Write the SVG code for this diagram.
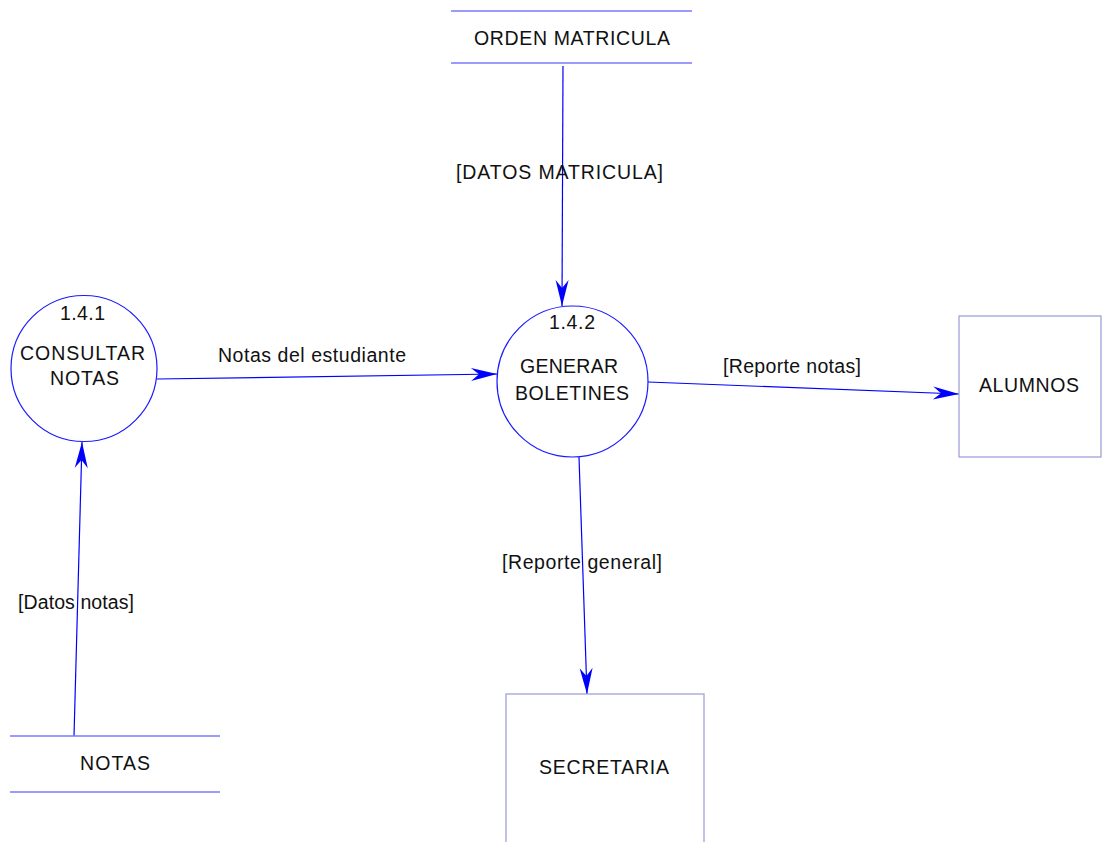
<svg xmlns="http://www.w3.org/2000/svg" width="1104" height="842" viewBox="0 0 1104 842">
  <defs>
    <marker id="arrow" markerUnits="userSpaceOnUse" markerWidth="30" markerHeight="16" viewBox="-28 -8 30 16" refX="0" refY="0" orient="auto">
      <path d="M0,0 L-26,-6.5 L-18,0 L-26,6.5 Z" fill="#0000ff"/>
    </marker>
    <style>
      text { font-family: "Liberation Sans", Arial, sans-serif; font-size: 19.5px; fill: #111; }
      .proc { fill: #fff; stroke: #1a1aff; stroke-width: 1.2; }
      .store { stroke: #7878ff; stroke-width: 1.5; fill: none; }
      .ext { fill: #fff; stroke: #9a9ad8; stroke-width: 1.2; }
      .flow { stroke: #0000ff; stroke-width: 1.2; fill: none; marker-end: url(#arrow); }
    </style>
  </defs>
  <rect width="1104" height="842" fill="#fff"/>

  <!-- data flows -->
  <g id="connectors">
    <line class="flow" x1="563" y1="66" x2="562" y2="306"/>
    <line class="flow" x1="74" y1="736" x2="82" y2="442"/>
    <line class="flow" x1="157" y1="379" x2="497" y2="374"/>
    <line class="flow" x1="648" y1="382" x2="959" y2="394"/>
    <line class="flow" x1="579" y1="457" x2="587" y2="694"/>
    <text x="456" y="179" textLength="207" lengthAdjust="spacing">[DATOS MATRICULA]</text>
    <text x="218" y="362" textLength="188" lengthAdjust="spacing">Notas del estudiante</text>
    <text x="723" y="373" textLength="138" lengthAdjust="spacing">[Reporte notas]</text>
    <text x="502" y="569" textLength="160" lengthAdjust="spacing">[Reporte general]</text>
    <text x="18" y="609" textLength="116" lengthAdjust="spacing">[Datos notas]</text>
  </g>

  <!-- data store: ORDEN MATRICULA -->
  <g id="store-orden">
    <line class="store" x1="451" y1="11" x2="692" y2="11"/>
    <line class="store" x1="451" y1="63" x2="692" y2="63"/>
    <text x="474" y="45" textLength="196" lengthAdjust="spacing">ORDEN MATRICULA</text>
  </g>

  <!-- data store: NOTAS -->
  <g id="store-notas">
    <line class="store" x1="10" y1="736" x2="220" y2="736"/>
    <line class="store" x1="10" y1="792" x2="220" y2="792"/>
    <text x="80" y="770" textLength="70" lengthAdjust="spacing">NOTAS</text>
  </g>

  <!-- process 1.4.1 -->
  <g id="proc-141">
    <circle class="proc" cx="84" cy="368.5" r="73"/>
    <text x="60" y="320" textLength="45" lengthAdjust="spacing">1.4.1</text>
    <text x="20" y="360" textLength="125" lengthAdjust="spacing">CONSULTAR</text>
    <text x="50" y="385" textLength="69" lengthAdjust="spacing">NOTAS</text>
  </g>

  <!-- process 1.4.2 -->
  <g id="proc-142">
    <circle class="proc" cx="572.5" cy="381.5" r="75.5"/>
    <text x="549" y="329" textLength="46" lengthAdjust="spacing">1.4.2</text>
    <text x="520" y="373" textLength="98" lengthAdjust="spacing">GENERAR</text>
    <text x="515" y="400" textLength="114" lengthAdjust="spacing">BOLETINES</text>
  </g>

  <!-- external entity: ALUMNOS -->
  <g id="ext-alumnos">
    <rect class="ext" x="959" y="316" width="142" height="141"/>
    <text x="979" y="392" textLength="100" lengthAdjust="spacing">ALUMNOS</text>
  </g>

  <!-- external entity: SECRETARIA -->
  <g id="ext-secretaria">
    <rect class="ext" x="506" y="694" width="198" height="160"/>
    <text x="539" y="774" textLength="130" lengthAdjust="spacing">SECRETARIA</text>
  </g>
</svg>
